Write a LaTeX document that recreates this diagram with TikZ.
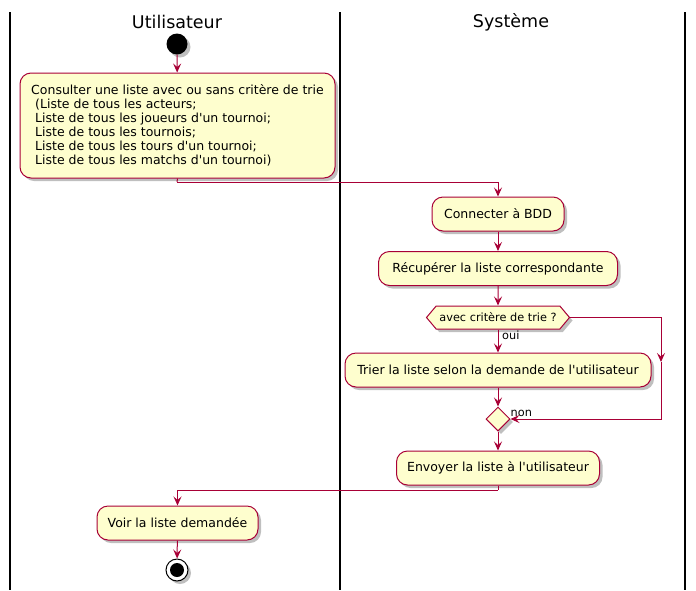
\documentclass[tikz,border=0pt]{standalone}
\usepackage{fontspec}
\setmainfont{DejaVu Sans}
\usepackage{tikz}
\usetikzlibrary{arrows.meta,shadows,shapes.geometric,shapes.symbols}

\definecolor{actfill}{HTML}{FEFECE}
\definecolor{actline}{HTML}{A80036}
\newcommand\apos{\textquotesingle}

\tikzset{
  act/.style={draw=actline, fill=actfill, line width=1pt, rounded corners=11pt,
    minimum height=34pt, inner xsep=8pt, font=\fontsize{12.5}{14}\selectfont,
    drop shadow={shadow xshift=3pt, shadow yshift=-3pt, fill=black, opacity=.25}},
  flow/.style={draw=actline, line width=1pt,
    -{Stealth[length=9pt,width=8pt,inset=3.5pt]}},
  lbl/.style={font=\fontsize{11.3}{13}\selectfont, inner sep=1pt},
  lane/.style={line width=1.2pt, black},
  lanetitle/.style={font=\fontsize{17.5}{20}\selectfont}
}

\begin{document}
\begin{tikzpicture}[x=1pt, y=-1pt]
  \useasboundingbox (0,0) rectangle (696,590);

  % swimlanes
  \draw[lane] (10,12) -- (10,590);
  \draw[lane] (340,12) -- (340,590);
  \draw[lane] (685,12) -- (685,590);
  \node[lanetitle] (tuser) at (177,22) {Utilisateur};
  \node[lanetitle] (tsys) at (511,22) {Système};

  % Utilisateur
  \node[circle, fill=black, minimum size=21pt, inner sep=0pt,
    drop shadow={shadow xshift=3pt, shadow yshift=-3pt, fill=black, opacity=.25}] (start) at (177,44) {};
  \node[act, align=left, minimum width=315pt, minimum height=105pt] (consult) at (177.5,125.5)
    {Consulter une liste avec ou sans critère de trie\\
     \ (Liste de tous les acteurs;\\
     \ Liste de tous les joueurs d\apos un tournoi;\\
     \ Liste de tous les tournois;\\
     \ Liste de tous les tours d\apos un tournoi;\\
     \ Liste de tous les matchs d\apos un tournoi)};

  % Systeme
  \node[act, minimum width=132pt] (connect) at (498,214) {Connecter à BDD};
  \node[act, minimum width=239pt] (recup) at (498,268.5) {Récupérer la liste correspondante};
  \node[signal, signal to=west and east, signal pointer angle=100, draw=actline, fill=actfill,
    line width=1pt, minimum width=143pt, minimum height=23pt, inner sep=0pt,
    font=\fontsize{11.3}{13}\selectfont,
    drop shadow={shadow xshift=3pt, shadow yshift=-3pt, fill=black, opacity=.25}] (crit) at (498,317.5)
    {avec critère de trie ?};
  \node[act, minimum width=306pt] (trier) at (498,370) {Trier la liste selon la demande de l\apos utilisateur};
  \node[diamond, draw=actline, fill=actfill, line width=1pt, minimum size=24pt, inner sep=0pt,
    drop shadow={shadow xshift=3pt, shadow yshift=-3pt, fill=black, opacity=.25}] (merge) at (498,419) {};
  \node[act, minimum width=203pt] (envoi) at (498,468) {Envoyer la liste à l\apos utilisateur};

  % retour Utilisateur
  \node[act, minimum width=161pt] (voir) at (177.5,523) {Voir la liste demandée};
  \node[circle, draw=black, fill=white, line width=1pt, minimum size=22pt, inner sep=0pt,
    drop shadow={shadow xshift=3pt, shadow yshift=-3pt, fill=black, opacity=.25}] (stop) at (177,570) {};
  \node[circle, fill=black, minimum size=14pt, inner sep=0pt] (stopdot) at (stop) {};

  % connecteurs
  \coordinate (c1) at (177,182);
  \coordinate (c2) at (661,362);
  \coordinate (c3) at (498,490);
  \draw[flow] (start) -- (consult);
  \draw[actline, line width=1pt] (consult.south) -- (c1);
  \draw[flow] (c1) -| (connect.north);
  \draw[flow] (connect) -- (recup);
  \draw[flow] (recup) -- (crit);
  \draw[flow] (crit) -- (trier);
  \draw[flow] (trier) -- (merge);
  \draw[flow] (crit.east) -| (c2);
  \draw[flow] (c2) |- (merge.east);
  \draw[flow] (merge) -- (envoi);
  \draw[actline, line width=1pt] (envoi.south) -- (c3);
  \draw[flow] (c3) -| (voir.north);
  \draw[flow] (voir) -- (stop);

  \node[lbl, anchor=north west] (oui) at ([xshift=3pt]crit.south) {oui};
  \node[lbl, anchor=south west] (non) at ([xshift=-1pt,yshift=1pt]merge.east) {non};
\end{tikzpicture}
\end{document}
